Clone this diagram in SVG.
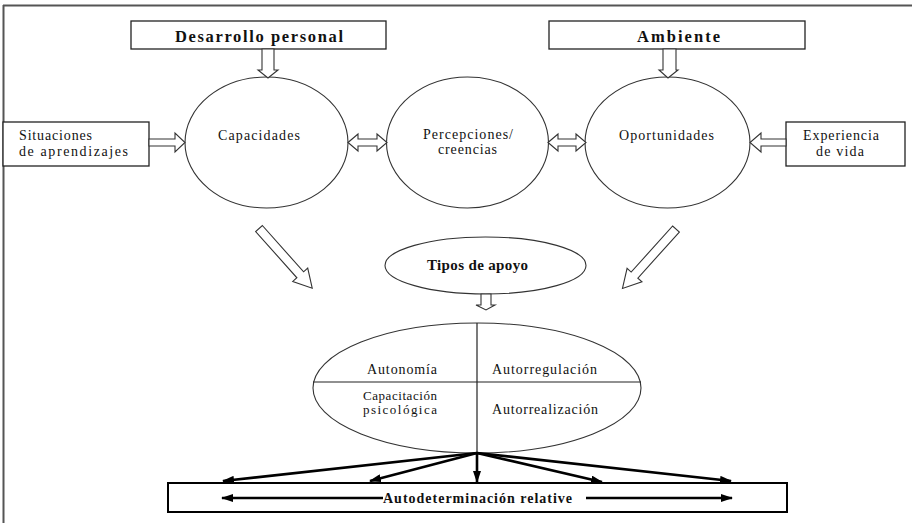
<svg xmlns="http://www.w3.org/2000/svg" width="912" height="523" viewBox="0 0 912 523">
<style>
.box{fill:#fff;stroke:#222;stroke-width:1.3}
.ell{fill:#fff;stroke:#333;stroke-width:1.1}
.hol{fill:#fff;stroke:#333;stroke-width:1.1;stroke-linejoin:miter}
.t{font-family:"Liberation Serif","Times New Roman",serif;font-size:14px;fill:#111}
.s{font-size:13px}
.b{font-family:"Liberation Serif","Times New Roman",serif;font-weight:bold;fill:#111}
.thick{stroke:#000;stroke-width:2.6;fill:none}
.ln{stroke:#222;stroke-width:1.2;fill:none}
</style>
<defs>
<marker id="ah" viewBox="0 0 12 8" refX="11" refY="4" markerWidth="12" markerHeight="8" markerUnits="userSpaceOnUse" orient="auto">
<path d="M0,0 L12,4 L0,8 Z" fill="#000"/>
</marker>
</defs>
<rect width="912" height="523" fill="#fff"/>
<g id="frame">
<line x1="3" y1="5.5" x2="912" y2="5.5" stroke="#555" stroke-width="2"/>
<line x1="3.5" y1="5" x2="3.5" y2="523" stroke="#555" stroke-width="2"/>
</g>
<g id="desarrollo">
<rect class="box" x="131" y="21" width="255" height="28"/>
<text class="b" x="175" y="42" font-size="16.5" textLength="168" lengthAdjust="spacing">Desarrollo personal</text>
</g>
<g id="ambiente">
<rect class="box" x="549" y="21" width="256" height="28"/>
<text class="b" x="637" y="42" font-size="16.5" textLength="83" lengthAdjust="spacing">Ambiente</text>
</g>
<g id="situaciones">
<rect class="box" x="3" y="122" width="146" height="44"/>
<text class="t" x="19" y="140" textLength="73" lengthAdjust="spacing">Situaciones</text>
<text class="t" x="19" y="156" textLength="109" lengthAdjust="spacing">de aprendizajes</text>
</g>
<g id="experiencia">
<rect class="box" x="786" y="122" width="119" height="44"/>
<text class="t" x="803" y="140" textLength="76" lengthAdjust="spacing">Experiencia</text>
<text class="t" x="816" y="156" textLength="48" lengthAdjust="spacing">de vida</text>
</g>
<g id="capacidades">
<ellipse class="ell" cx="266.5" cy="142.5" rx="81.5" ry="65.5"/>
<text class="t" x="218" y="140" textLength="82" lengthAdjust="spacing">Capacidades</text>
</g>
<g id="percepciones">
<ellipse class="ell" cx="467.5" cy="142.5" rx="81" ry="65.5"/>
<text class="t" x="423" y="139" textLength="90" lengthAdjust="spacing">Percepciones/</text>
<text class="t" x="438" y="154" textLength="59" lengthAdjust="spacing">creencias</text>
</g>
<g id="oportunidades">
<ellipse class="ell" cx="667.5" cy="142.5" rx="82.5" ry="65.5"/>
<text class="t" x="619" y="140" textLength="95" lengthAdjust="spacing">Oportunidades</text>
</g>
<g id="tipos">
<ellipse class="ell" cx="485.5" cy="265.5" rx="100.5" ry="28.5"/>
<text class="b" x="427" y="270" font-size="15" textLength="101" lengthAdjust="spacing">Tipos de apoyo</text>
</g>
<g id="dimensiones">
<ellipse class="ell" cx="477" cy="388" rx="164" ry="65"/>
<line class="ln" x1="313" y1="382" x2="641" y2="382"/>
<line class="ln" x1="477" y1="323" x2="477" y2="453"/>
<text class="t" x="367" y="374" textLength="70" lengthAdjust="spacing">Autonomía</text>
<text class="t" x="492" y="374" textLength="105" lengthAdjust="spacing">Autorregulación</text>
<text class="t s" x="363" y="400" textLength="74" lengthAdjust="spacing">Capacitación</text>
<text class="t s" x="363" y="414" textLength="74" lengthAdjust="spacing">psicológica</text>
<text class="t" x="492" y="414" textLength="106" lengthAdjust="spacing">Autorrealización</text>
</g>
<g id="autodeterminacion">
<rect x="168" y="483" width="619" height="29" fill="#fff" stroke="#000" stroke-width="2"/>
<text class="b" x="383" y="503" font-size="14" textLength="189" lengthAdjust="spacing">Autodeterminación relative</text>
</g>
<g id="connectors">
<path class="hol" d="M262,49 L274,49 L274,70 L278,70 L268,78 L258,70 L262,70 Z"/>
<path class="hol" d="M663,49 L676,49 L676,70 L678,70 L668,78 L659,70 L663,70 Z"/>
<path class="hol" d="M149,139 L175,139 L175,133 L185,142.5 L175,152 L175,146 L149,146 Z"/>
<path class="hol" d="M786,139 L761,139 L761,133 L750,142.5 L761,152 L761,146 L786,146 Z"/>
<path class="hol" d="M348,142.5 L358,134 L358,139 L377,139 L377,134 L387,142.5 L377,151 L377,146 L358,146 L358,151 Z"/>
<path class="hol" d="M548,142.5 L558,134 L558,139 L576,139 L576,134 L586,142.5 L576,151 L576,146 L558,146 L558,151 Z"/>
<path class="hol" transform="translate(259,228.5) rotate(48.3)" d="M0,-4.5 L62,-4.5 L62,-10 L80,0 L62,10 L62,4.5 L0,4.5 Z"/>
<path class="hol" transform="translate(676,229) rotate(132)" d="M0,-4.5 L62,-4.5 L62,-10 L80,0 L62,10 L62,4.5 L0,4.5 Z"/>
<path class="hol" d="M481,294 L491,294 L491,305 L495,305 L486,310 L476,305 L481,305 Z"/>
<line class="thick" x1="477" y1="453" x2="223" y2="481" marker-end="url(#ah)"/>
<line class="thick" x1="477" y1="453" x2="370" y2="481" marker-end="url(#ah)"/>
<line class="thick" x1="477" y1="453" x2="477" y2="482" marker-end="url(#ah)"/>
<line class="thick" x1="477" y1="453" x2="602" y2="482" marker-end="url(#ah)"/>
<line class="thick" x1="477" y1="453" x2="731" y2="481" marker-end="url(#ah)"/>
<line class="thick" x1="383" y1="498" x2="222" y2="498" marker-end="url(#ah)"/>
<line class="thick" x1="586" y1="498" x2="732" y2="498" marker-end="url(#ah)"/>
</g>
</svg>
